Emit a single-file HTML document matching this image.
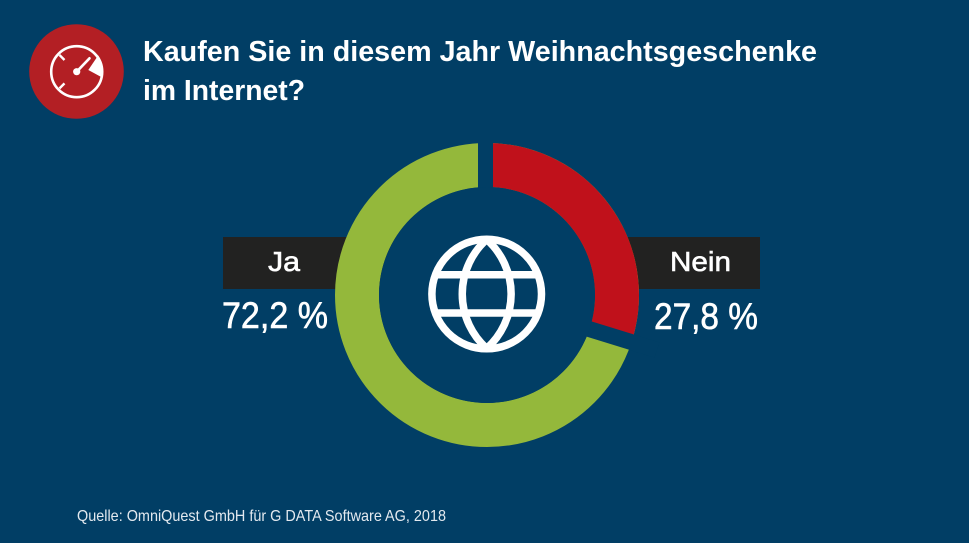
<!DOCTYPE html>
<html>
<head>
<meta charset="utf-8">
<style>
  html,body{margin:0;padding:0;background:#013e65;}
  svg{display:block;}
  text{font-family:"Liberation Sans",sans-serif;fill:#ffffff;}
  .lbl{stroke:#ffffff;stroke-width:0.6px;}
</style>
</head>
<body>
<svg width="969" height="543" viewBox="0 0 969 543" xmlns="http://www.w3.org/2000/svg">
  <rect x="0" y="0" width="969" height="543" fill="#013e65"/>

  <!-- header icon -->
  <circle cx="76.5" cy="71.5" r="47.3" fill="#b31f24"/>
  <circle cx="76.7" cy="71.7" r="25.5" fill="none" stroke="#ffffff" stroke-width="2.6"/>
  <path d="M88.3 70 L98.2 55.4 A25.5 25.5 0 0 1 101.7 77.2 Z" fill="#ffffff"/>
  <line x1="76.7" y1="71.7" x2="89.5" y2="58.3" stroke="#ffffff" stroke-width="2.6" stroke-linecap="round"/>
  <circle cx="76.7" cy="71.7" r="3.6" fill="#ffffff"/>
  <line x1="59.5" y1="55" x2="64.5" y2="60" stroke="#ffffff" stroke-width="2.4"/>
  <line x1="59.5" y1="88.4" x2="64.5" y2="83.4" stroke="#ffffff" stroke-width="2.4"/>

  <!-- title -->
  <text x="143" y="61" font-size="29" font-weight="bold" textLength="674" lengthAdjust="spacingAndGlyphs">Kaufen Sie in diesem Jahr Weihnachtsgeschenke</text>
  <text x="143" y="100" font-size="29" font-weight="bold" textLength="162" lengthAdjust="spacingAndGlyphs">im Internet?</text>

  <!-- label boxes -->
  <rect x="223" y="237" width="180" height="52" fill="#222221"/>
  <rect x="580" y="237" width="180" height="52" fill="#222221"/>

  <!-- donut -->
  <circle cx="487" cy="295" r="130" fill="none" stroke="#94b83b" stroke-width="44"/>
  <path d="M487 165 A130 130 0 0 1 611.3 333" fill="none" stroke="#c0111b" stroke-width="44"/>
  <!-- gaps -->
  <line x1="485.5" y1="120" x2="485.5" y2="297" stroke="#013e65" stroke-width="15"/>
  <line x1="485.5" y1="297" x2="657" y2="350" stroke="#013e65" stroke-width="16"/>
  <!-- inner fill -->
  <circle cx="487" cy="295" r="108" fill="#013e65"/>

  <!-- globe -->
  <g fill="none" stroke="#ffffff" stroke-width="7.5">
    <circle cx="486.7" cy="294" r="54.8"/>
    <path d="M486.7 239.5 A73 73 0 0 0 486.7 348.5"/>
    <path d="M486.7 239.5 A73 73 0 0 1 486.7 348.5"/>
    <line x1="434" y1="274.7" x2="539.4" y2="274.7"/>
    <line x1="434" y1="313" x2="539.4" y2="313"/>
  </g>

  <!-- labels -->
  <text class="lbl" x="268" y="271" font-size="28" textLength="32" lengthAdjust="spacingAndGlyphs">Ja</text>
  <text class="lbl" x="670" y="271" font-size="28" textLength="61" lengthAdjust="spacingAndGlyphs">Nein</text>
  <text class="lbl" x="222" y="328" font-size="37" textLength="106" lengthAdjust="spacingAndGlyphs">72,2 %</text>
  <text class="lbl" x="654" y="329" font-size="37" textLength="104" lengthAdjust="spacingAndGlyphs">27,8 %</text>

  <!-- source -->
  <text x="77" y="521" font-size="16" style="fill:#e3e9ef" textLength="369" lengthAdjust="spacingAndGlyphs">Quelle: OmniQuest GmbH für G DATA Software AG, 2018</text>
</svg>
</body>
</html>
